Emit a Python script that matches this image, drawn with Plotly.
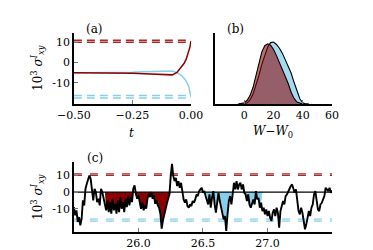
import numpy as np
import plotly.graph_objects as go

# ---------------- data ----------------
# panel (a): mean stress vs time
t_a = [-0.5, -0.45, -0.4, -0.35, -0.3, -0.25, -0.2, -0.15, -0.12, -0.1, -0.08,
       -0.06, -0.05, -0.04, -0.03, -0.02, -0.01, -0.005, 0.0]
sig_red_a = [-5.0, -5.0, -5.05, -5.1, -5.2, -5.35, -5.55, -5.85, -6.1, -6.3, -6.1,
             -4.9, -3.6, -2.2, -0.5, 1.8, 5.0, 7.5, 10.7]
sig_blue_a = [-5.0, -5.0, -5.0, -4.95, -4.9, -4.8, -4.6, -4.3, -4.1, -4.0, -4.2,
              -5.0, -5.7, -6.5, -7.8, -9.3, -11.7, -13.8, -17.1]

# thresholds (dashed lines)
upper_thr = [10.0, 11.0]
lower_thr = [-16.3, -17.5]

# panel (b): work distributions
w_bins = [-4, -2, 0, 2, 4, 6, 8, 10, 12, 14, 16, 18, 20, 22, 24, 26, 28, 30,
          32, 34, 36, 38, 40, 42, 44]
p_red = [0.0, 0.005, 0.02, 0.06, 0.14, 0.27, 0.45, 0.66, 0.84, 0.94, 0.97, 0.95,
         0.88, 0.78, 0.67, 0.56, 0.47, 0.33, 0.19, 0.09, 0.03, 0.01, 0.0, 0.0, 0.0]
p_blue = [0.0, 0.0, 0.005, 0.02, 0.07, 0.16, 0.30, 0.46, 0.64, 0.80, 0.92, 0.99,
          1.0, 0.96, 0.90, 0.82, 0.72, 0.62, 0.50, 0.35, 0.20, 0.08, 0.02, 0.0, 0.0]

# panel (c): stress time series
t_c = [round(25.5 + 0.01 * i, 2) for i in range(201)]
sig_c = [
    -9, -14, -11, -18, -15, -20, -16, -5, -8, 2,
    5, 8, 10, 8, 1, -5, 2, 0, -6, -4,
    -8, 2, 0, -4, -7, -11, -5, -12, -6, -13,
    -4, -11, -7, -13, -5, -12, -3, -10, -6, -12,
    -4, -9, -2, -8, -3, -6, 2, 4, -1, -4,
    -2, -7, -10, -6, -11, -8, -10, -4, -1, -3,
    0, -4, -2, -7, -5, -8,
    -9.4, -13, -22, -17, -13, -9, -7, -4, -1.5, 9.6,
    17, 9.6, 6.6, 8.6, 3.6, 6.6, 2.6, 5.6, -1.4, -4.4,
    -6.4, -4.4, -8.4, -9.4, -7.4, -8.4, -5.4, -6.4, -4.4, -1.4,
    -2.4, 0.6, 1.6, 2.6, -0.4, 0.6, -2.4, -4.4, -7.4, -1.4,
    -9.4, -3.4, 0.6, -7.4, -12.4, -6.4, -0.4, -5.4, -9.4, -13.4,
    -16.4, -14.4, -23.4, -13.4, -5.4, -2.4, -7.4, -1.4, 5.6, 1.6,
    6.6, 1.6, 4.6, 5.6, 1.6, 4.6, -0.4,
    -1.4, -5.4, -1.4, -7.4, -9.4, -7.4, -4.4, -7.4, 0.6, -4.4,
    -3.4, -9.4, -6.4, -11.4, -9.4, -13.4, -10.4, -14.4, -11.4, -15.4,
    -17.4, -12.4, -10.4, -14.4, -9.4, -12.4, -21.4, -11.4, -8.4, -5.4,
    -7.4, -2.4, -1.4, 0.6, 1.6, 3.6, 4.6, 2.6, -0.4, 1.6,
    -5.4, -11.4, -13.4, -9.4, -12.4, -16.4, -22.4, -19.4, -14.4, -11.4,
    -14.4, -9.4, -7.4, -1.4, 0.6, -5.4, -10.4, -11.4, -7.4, -6.4,
    -4.4, -2.4, 2.6, 1.6, 0.6, 2.6, -0.4, 1.0,
]
red_window = [25.75, 26.25]
blue_window = [26.50, 26.95]

# ---------------- figure ----------------
DARKRED = "#8b0000"
SKY = "#87ceeb"
DRED_DASH = "#a52a2a"
FONT = "DejaVu Serif"

tc = np.array(t_c)
sc = np.array(sig_c, dtype=float)
fill_r = np.where((tc >= red_window[0]) & (tc <= red_window[1]) & (sc < 0), sc, 0.0)
fill_b = np.where((tc >= blue_window[0]) & (tc <= blue_window[1]) & (sc < 0), sc, 0.0)

fig = go.Figure()

# (a) dashed thresholds
for v in upper_thr:
    fig.add_trace(go.Scatter(x=[t_a[0], t_a[-1]], y=[v, v], mode="lines",
                             line=dict(color=DRED_DASH, width=1.5, dash="8px,5px"),
                             xaxis="x", yaxis="y", showlegend=False))
for v in lower_thr:
    fig.add_trace(go.Scatter(x=[t_a[0], t_a[-1]], y=[v, v], mode="lines",
                             line=dict(color=SKY, width=1.5, dash="8px,5px"),
                             xaxis="x", yaxis="y", showlegend=False))
fig.add_trace(go.Scatter(x=t_a, y=sig_blue_a, mode="lines", line=dict(color=SKY, width=1.5),
                         xaxis="x", yaxis="y", showlegend=False))
fig.add_trace(go.Scatter(x=t_a, y=sig_red_a, mode="lines", line=dict(color=DARKRED, width=1.5),
                         xaxis="x", yaxis="y", showlegend=False))

# (b) distributions
fig.add_trace(go.Scatter(x=w_bins, y=p_blue, mode="lines", fill="tozeroy",
                         fillcolor="rgba(135,206,235,0.75)", line=dict(color="black", width=1.1),
                         xaxis="x2", yaxis="y2", showlegend=False))
fig.add_trace(go.Scatter(x=w_bins, y=p_red, mode="lines", fill="tozeroy",
                         fillcolor="rgba(139,0,0,0.57)", line=dict(color="black", width=1.1),
                         xaxis="x2", yaxis="y2", showlegend=False))

# (c)
fig.add_trace(go.Scatter(x=t_c, y=fill_r, mode="lines", fill="tozeroy", fillcolor=DARKRED,
                         line=dict(width=0, color=DARKRED), xaxis="x3", yaxis="y3", showlegend=False))
fig.add_trace(go.Scatter(x=t_c, y=fill_b, mode="lines", fill="tozeroy", fillcolor=SKY,
                         line=dict(width=0, color=SKY), xaxis="x3", yaxis="y3", showlegend=False))
for v in upper_thr:
    fig.add_trace(go.Scatter(x=[t_c[0], t_c[-1]], y=[v, v], mode="lines",
                             line=dict(color=DRED_DASH, width=1.3, dash="8px,8px"),
                             xaxis="x3", yaxis="y3", showlegend=False))
for v in lower_thr:
    fig.add_trace(go.Scatter(x=[t_c[0], t_c[-1]], y=[v, v], mode="lines",
                             line=dict(color=SKY, width=1.3, dash="8px,8px"),
                             xaxis="x3", yaxis="y3", showlegend=False))
fig.add_trace(go.Scatter(x=[t_c[0], t_c[-1]], y=[0, 0], mode="lines",
                         line=dict(color="black", width=1.2), xaxis="x3", yaxis="y3", showlegend=False))
fig.add_trace(go.Scatter(x=t_c, y=sig_c, mode="lines", line=dict(color="black", width=1.9),
                         xaxis="x3", yaxis="y3", showlegend=False))

W, H = 373, 250
def px(x):
    return x / W
def py(y):
    return 1 - y / H

axis_common = dict(showline=True, linecolor="black", linewidth=1.5, ticks="inside",
                   ticklen=4, tickcolor="#777", tickwidth=1, showgrid=False, zeroline=False,
                   tickfont=dict(family=FONT, size=11, color="black"))

fig.update_layout(
    width=W, height=H, margin=dict(l=0, r=0, t=0, b=0),
    paper_bgcolor="white", plot_bgcolor="white",
    font=dict(family=FONT, size=11, color="black"),
    xaxis=dict(domain=[px(53), px(180)], range=[-0.5, 0.0], anchor="y",
               tickvals=[-0.5, -0.25, 0.0], ticktext=["\u22120.50", "\u22120.25", "0.00"], **axis_common),
    yaxis=dict(domain=[py(96), py(25)], range=[-20.5, 14.6], anchor="x",
               tickvals=[10, 0, -10], ticktext=["10", "0", "-10"], **axis_common),
    xaxis2=dict(domain=[px(206), px(333)], range=[-20, 60], anchor="y2",
                tickvals=[0, 20, 40, 60], ticktext=["0", "20", "40", "60"], **axis_common),
    yaxis2=dict(domain=[py(96), py(25)], range=[0, 1.145], anchor="x2",
                showticklabels=False, **{k: v for k, v in axis_common.items() if k != "ticks"}, ticks=""),
    xaxis3=dict(domain=[px(53), px(333)], range=[25.5, 27.5], anchor="y3",
                tickvals=[26.0, 26.5, 27.0], ticktext=["26.0", "26.5", "27.0"], **axis_common),
    yaxis3=dict(domain=[py(224), py(154)], range=[-24, 18.1], anchor="x3",
                tickvals=[10, 0, -10], ticktext=["10", "0", "-10"], **axis_common),
)

ann = [
    dict(text="(a)", x=px(75), y=py(21), size=12),
    dict(text="(b)", x=px(228), y=py(21), size=12),
    dict(text="(c)", x=px(76), y=py(150), size=12),
    dict(text="<i>t</i>", x=px(116), y=py(125), size=12),
    dict(text="<i>W</i>\u2212<i>W</i><sub>0</sub>", x=px(269), y=py(124), size=12),
    dict(text="<i>t</i>", x=px(193), y=py(253), size=12),
]
for a in ann:
    fig.add_annotation(text=a["text"], x=a["x"], y=a["y"], xref="paper", yref="paper",
                       showarrow=False, xanchor="center", yanchor="middle",
                       font=dict(family=FONT, size=a["size"], color="black"))

ytitle = "10<sup>3</sup> <i>σ</i><sup><i>I</i></sup><sub><i>xy</i></sub>"
for yc in (60, 189):
    fig.add_annotation(text=ytitle, x=px(14), y=py(yc), xref="paper", yref="paper",
                       showarrow=False, textangle=-90, xanchor="center", yanchor="middle",
                       font=dict(family=FONT, size=12, color="black"))

fig.write_html("out.html")
